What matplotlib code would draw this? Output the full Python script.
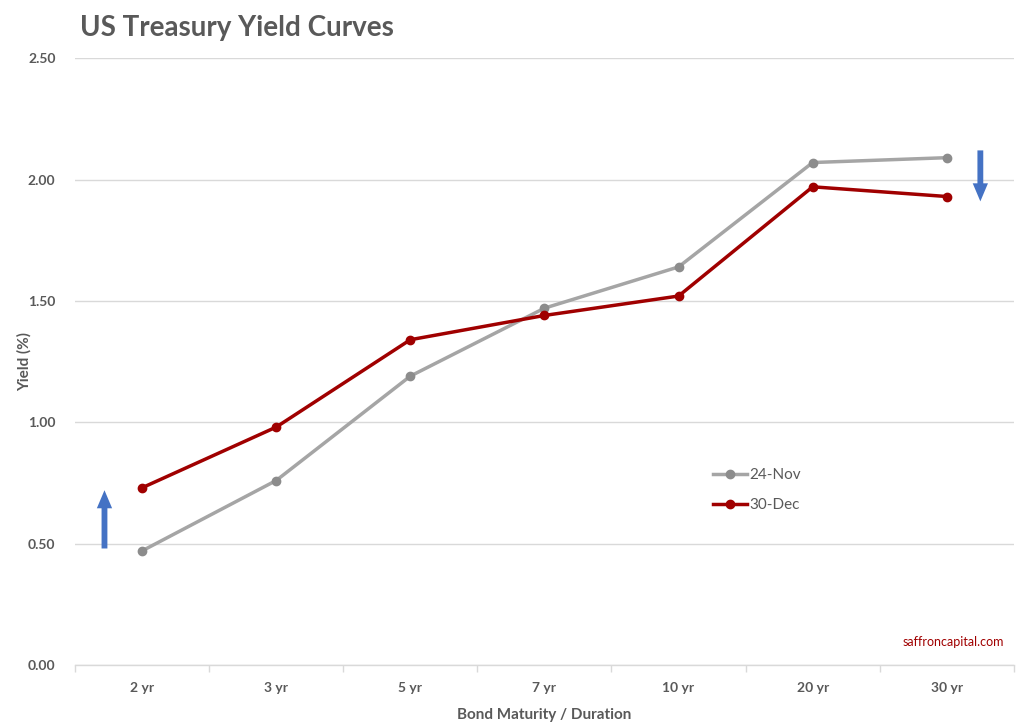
import matplotlib
matplotlib.use("Agg")
import matplotlib.pyplot as plt
import numpy as np

categories = ["2 yr", "3 yr", "5 yr", "7 yr", "10 yr", "20 yr", "30 yr"]
nov24 = [0.47, 0.76, 1.19, 1.47, 1.64, 2.07, 2.09]
dec30 = [0.73, 0.98, 1.34, 1.44, 1.52, 1.97, 1.93]
yticks = [0.0, 0.5, 1.0, 1.5, 2.0, 2.5]

plt.rcParams['font.family'] = ['Lato', 'DejaVu Sans']

fig = plt.figure(figsize=(10.2, 7.27), dpi=100)
ax = fig.add_axes([0.0735, 0.0853, 0.9205, 0.8347])

x = np.arange(len(categories))
ax.plot(x, nov24, color="#a5a5a5", lw=2.5, marker="o", ms=6,
        mfc="#8c8c8c", mec="#8c8c8c", label="24-Nov", zorder=3)
ax.plot(x, dec30, color="#a00000", lw=2.5, marker="o", ms=6,
        mfc="#a00000", mec="#a00000", label="30-Dec", zorder=4)

ax.set_xlim(-0.5, len(categories) - 0.5)
ax.set_ylim(0, 2.5)
ax.set_yticks(yticks)
ax.set_yticklabels([f"{v:.2f}" for v in yticks])
ax.set_xticks(x)
ax.set_xticklabels(categories, fontweight="bold")
ax.set_xticks(np.arange(-0.5, len(categories)), minor=True)
ax.tick_params(axis="x", which="major", length=0, pad=12, labelsize=10, labelcolor="#595959")
ax.tick_params(axis="x", which="minor", length=5, color="#d9d9d9", width=1)
ax.tick_params(axis="y", length=0, pad=14, labelsize=10, labelcolor="#595959")
for lab in ax.get_yticklabels():
    lab.set_fontweight("bold")

ax.grid(axis="y", color="#d9d9d9", lw=1)
ax.set_axisbelow(True)
for s in ["top", "right", "left"]:
    ax.spines[s].set_visible(False)
ax.spines["bottom"].set_color("#d9d9d9")
ax.spines["bottom"].set_linewidth(1)

ax.set_xlabel("Bond Maturity / Duration", fontsize=11, fontweight="bold", color="#595959", labelpad=10)
ax.set_ylabel("Yield (%)", fontsize=11, fontweight="bold", color="#595959", labelpad=-3)

fig.text(0.078, 0.962, "US Treasury Yield Curves", fontsize=20, fontweight="bold",
         color="#595959", ha="left", va="center")

leg = ax.legend(loc="upper left", bbox_to_anchor=(0.665, 0.347), frameon=False,
                fontsize=11, handlelength=2.2, labelspacing=1.05, handletextpad=0.2)
for t in leg.get_texts():
    t.set_color("#595959")

# arrows
astyle = "simple,head_length=1.3,head_width=1.1,tail_width=0.42"
ax.annotate("", xy=(-0.28, 0.72), xytext=(-0.28, 0.48),
            arrowprops=dict(arrowstyle=astyle, mutation_scale=10,
                            color="#4472c4", lw=0, shrinkA=0, shrinkB=0))
ax.annotate("", xy=(6.25, 1.91), xytext=(6.25, 2.12),
            arrowprops=dict(arrowstyle=astyle, mutation_scale=10,
                            color="#4472c4", lw=0, shrinkA=0, shrinkB=0))

ax.text(0.935, 0.038, "saffroncapital.com", transform=ax.transAxes, fontsize=9,
        color="#a00000", ha="center", va="center")

fig.savefig("out.png", dpi=100)
